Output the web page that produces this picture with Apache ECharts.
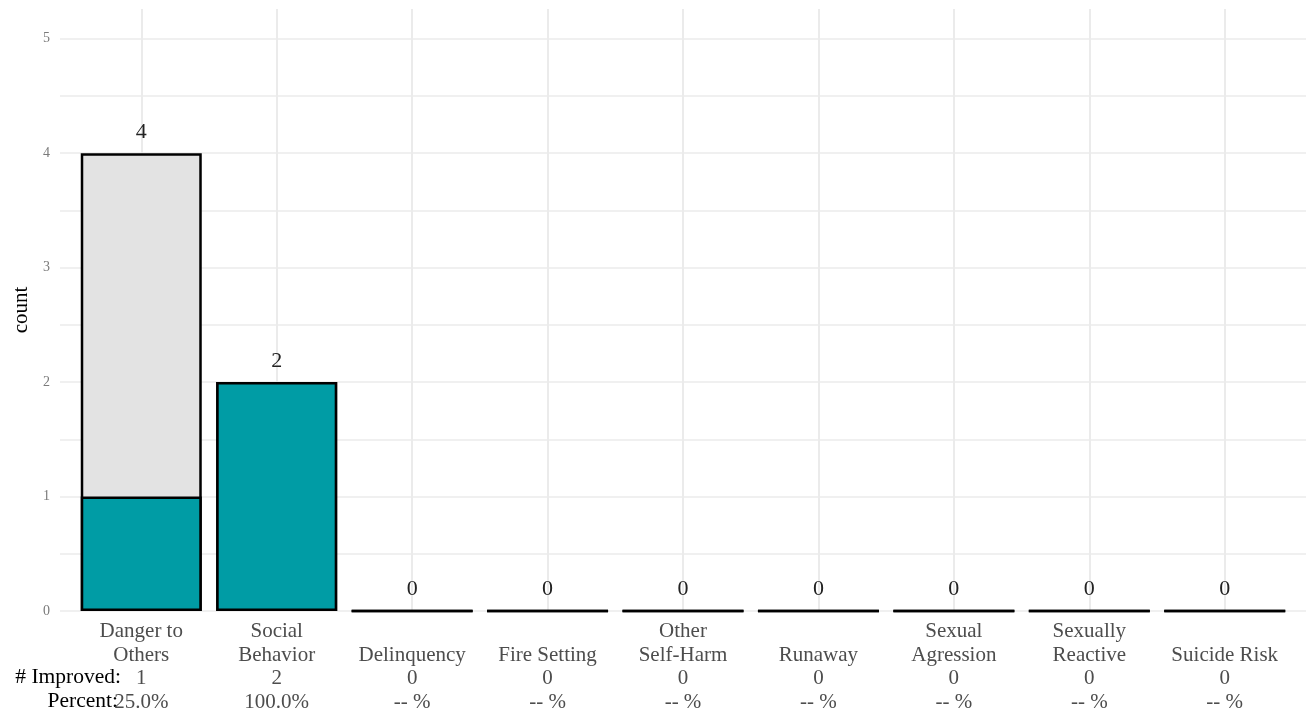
<!DOCTYPE html>
<html>
<head>
<meta charset="utf-8">
<script src="https://cdn.jsdelivr.net/npm/echarts@6/dist/echarts.min.js"></script>
<style>
html,body{margin:0;padding:0;background:#fff;}
#chart{width:1307px;height:719px;}
</style>
</head>
<body>
<div id="chart"></div>
<script>
const categories = ['Danger to\nOthers','Social\nBehavior','Delinquency','Fire Setting','Other\nSelf-Harm','Runaway','Sexual\nAgression','Sexually\nReactive','Suicide Risk'];
const totals = [4, 2, 0, 0, 0, 0, 0, 0, 0];
const improved = [1, 2, 0, 0, 0, 0, 0, 0, 0];
const percentLabels = ['25.0%', '100.0%', '-- %', '-- %', '-- %', '-- %', '-- %', '-- %', '-- %'];
const yTickValues = [0, 1, 2, 3, 4, 5];
const yGridValues = [0, 0.5, 1, 1.5, 2, 2.5, 3, 3.5, 4, 4.5, 5];

const idx = categories.map((c, i) => i);
const FONT = '"Liberation Serif", "Times New Roman", serif';

const chart = echarts.init(document.getElementById('chart'), null, {renderer: 'canvas'});
chart.setOption({
  animation: false,
  backgroundColor: '#ffffff',
  grid: {left: 60, right: 1, top: 9, bottom: 108, containLabel: false},
  xAxis: {
    type: 'value', min: -0.6, max: 8.6,
    axisLine: {show: false},
    axisTick: {show: false, customValues: idx},
    splitLine: {show: true, lineStyle: {color: '#ebebeb', width: 2}},
    axisLabel: {
      customValues: idx,
      margin: 9,
      color: '#4d4d4d',
      fontFamily: FONT,
      fontSize: 21,
      lineHeight: 23.5,
      verticalAlign: 'top',
      formatter: function (v) {
        const i = Math.round(v);
        let name = categories[i];
        if (name.indexOf('\n') < 0) name = ' \n' + name;
        return name + '\n' + improved[i] + '\n' + percentLabels[i];
      }
    }
  },
  yAxis: {
    type: 'value', min: 0, max: 5.26,
    name: 'count', nameLocation: 'middle', nameRotate: 90, nameGap: 24,
    nameTextStyle: {color: '#000', fontFamily: FONT, fontSize: 21},
    axisLine: {show: false},
    axisTick: {show: false, customValues: yGridValues},
    splitLine: {show: true, lineStyle: {color: '#ebebeb', width: 1.5}},
    axisLabel: {customValues: yTickValues, margin: 10, color: '#7a7a7a', fontFamily: FONT, fontSize: 14, padding: [6, 0, 0, 0]}
  },
  series: [
    {
      name: 'Total', type: 'bar', barWidth: 121,
      data: totals.map((v, i) => [i, v]),
      itemStyle: {color: '#e3e3e3', borderColor: '#000', borderWidth: 2.5},
      clip: false, z: 2,
      label: {
        show: true, position: 'top', distance: 10,
        color: '#222', fontFamily: FONT, fontSize: 22,
        formatter: function (p) { return String(totals[p.dataIndex]); }
      }
    },
    {
      name: 'Improved', type: 'bar', barWidth: 121, barGap: '-100%',
      data: improved.map((v, i) => [i, v]),
      itemStyle: {color: '#009ca5', borderColor: '#000', borderWidth: 2.5},
      clip: false, z: 3
    }
  ],
  graphic: [
    {type: 'text', right: 1307 - 121, top: 666, style: {text: '# Improved:', fill: '#000', font: '21.5px ' + FONT, textAlign: 'right'}},
    {type: 'text', right: 1307 - 118, top: 690, style: {text: 'Percent:', fill: '#000', font: '21.5px ' + FONT, textAlign: 'right'}}
  ]
});
</script>
</body>
</html>
